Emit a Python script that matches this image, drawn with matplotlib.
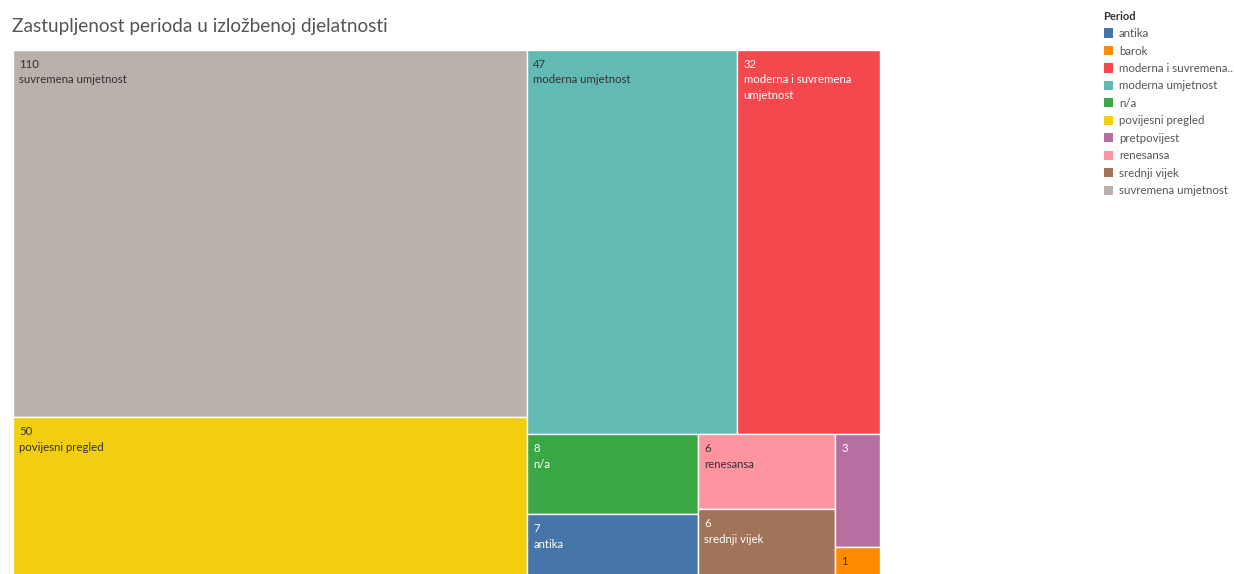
import matplotlib
matplotlib.use("Agg")
import matplotlib.pyplot as plt
from matplotlib.patches import Rectangle, Patch
import textwrap

# data
periods = ["antika", "barok", "moderna i suvremena umjetnost", "moderna umjetnost", "n/a",
           "povijesni pregled", "pretpovijest", "renesansa", "srednji vijek", "suvremena umjetnost"]
counts = [7, 1, 32, 47, 8, 50, 3, 6, 6, 110]
legend_labels = ["antika", "barok", "moderna i suvremena\u2026", "moderna umjetnost", "n/a",
                 "povijesni pregled", "pretpovijest", "renesansa", "srednji vijek", "suvremena umjetnost"]
colors = ["#4675AA", "#FF8C00", "#F4474E", "#63B9B4", "#3AA845",
          "#F1CE0F", "#B66FA0", "#FF94A1", "#A0735A", "#BAB0AC"]
title = "Zastupljenost perioda u izložbenoj djelatnosti"

plt.rcParams['font.family'] = ['Lato', 'DejaVu Sans']

W, H = 868.0, 535.0   # axis units follow the pixel aspect of the plot area


def layout(vals, x, y, w, h):
    # Tableau-like strips: items taken in pairs along the shorter side
    rects = []
    i = 0
    n = len(vals)
    while i < n:
        grp = vals[i:i + 2]
        s = sum(grp)
        rest = sum(vals[i:])
        if i + 2 >= n:
            # last strip fills what is left, split along the longer side
            if h > w:
                yy = y
                for v in grp:
                    hh = h * v / s
                    rects.append((x, yy, w, hh))
                    yy += hh
            else:
                xx = x
                for v in grp:
                    ww = w * v / s
                    rects.append((xx, y, ww, h))
                    xx += ww
        elif w >= h:
            sw = w * s / rest
            yy = y
            for v in grp:
                hh = h * v / s
                rects.append((x, yy, sw, hh))
                yy += hh
            x += sw
            w -= sw
        else:
            sh = h * s / rest
            xx = x
            for v in grp:
                ww = w * v / s
                rects.append((xx, y, ww, sh))
                xx += ww
            y += sh
            h -= sh
        i += 2
    return rects


def text_color(hexcol):
    r, g, b = [int(hexcol[k:k + 2], 16) for k in (1, 3, 5)]
    lum = 0.2126 * r + 0.7152 * g + 0.0722 * b
    return "white" if lum < 150 else "#333333"


order = sorted(range(len(counts)), key=lambda k: (-counts[k], periods[k]))
rects = layout([counts[k] for k in order], 0, 0, W, H)

fig = plt.figure(figsize=(12.34, 5.74), dpi=100)
ax = fig.add_axes([12.5 / 1234, 1 - 584.5 / 574, W / 1234, H / 574])
ax.set_xlim(0, W)
ax.set_ylim(H, 0)
ax.axis("off")

for k, (x, y, w, h) in zip(order, rects):
    ax.add_patch(Rectangle((x, y), w, h, facecolor=colors[k], edgecolor="white", linewidth=1.0))
    tc = text_color(colors[k])
    txt = str(counts[k])
    if w >= 60 and h >= 45:
        wrap = max(8, int(w / 6.6))
        txt += "\n" + "\n".join(textwrap.wrap(periods[k], wrap))
    ax.annotate(txt, (x, y), xytext=(4.6, -6.5), textcoords="offset points",
                ha="left", va="top", fontsize=8.2, color=tc, linespacing=1.55)

fig.text(12 / 1234, 1 - 32 / 574, title, fontsize=13.7, color="#555555",
         ha="left", va="baseline")

handles = [Patch(facecolor=c, edgecolor="none") for c in colors]
leg = fig.legend(handles, legend_labels, loc="upper left", bbox_to_anchor=(1099 / 1234, 1 - 6 / 574),
                 frameon=False, fontsize=8.3, title="Period", alignment="left",
                 handlelength=0.85, handleheight=0.85, handletextpad=0.5, labelspacing=0.56,
                 borderaxespad=0)
leg.get_title().set_fontweight("bold")
leg.get_title().set_fontsize(8.0)
leg.get_title().set_color("#333333")
for t in leg.get_texts():
    t.set_color("#555555")

fig.savefig("out.png", dpi=100)
